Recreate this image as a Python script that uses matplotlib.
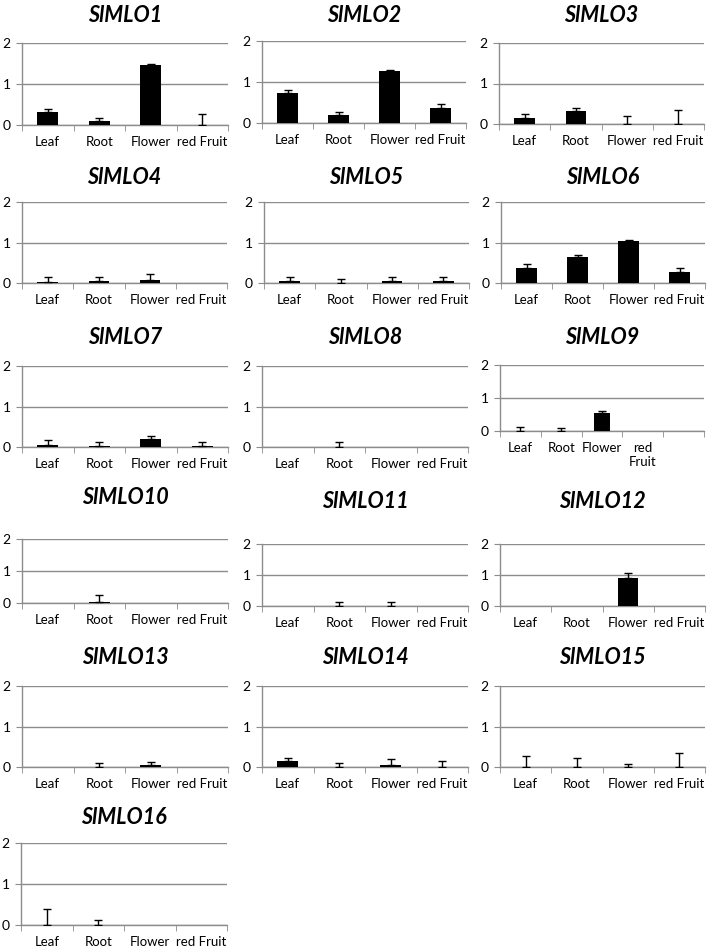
import matplotlib
matplotlib.use("Agg")
import matplotlib.pyplot as plt
import numpy as np

plt.rcParams["font.family"] = ["Lato", "DejaVu Sans"]

genes = ["SlMLO1", "SlMLO2", "SlMLO3", "SlMLO4", "SlMLO5", "SlMLO6",
         "SlMLO7", "SlMLO8", "SlMLO9", "SlMLO10", "SlMLO11", "SlMLO12",
         "SlMLO13", "SlMLO14", "SlMLO15", "SlMLO16"]
tissues = ["Leaf", "Root", "Flower", "red Fruit"]
tissues_9 = ["Leaf", "Root", "Flower", "red\nFruit", ""]

# relative expression per tissue (Leaf, Root, Flower, red Fruit)
expr = [
    [0.32, 0.10, 1.46, 0.00],
    [0.72, 0.19, 1.26, 0.36],
    [0.16, 0.33, 0.00, 0.00],
    [0.02, 0.06, 0.07, 0.00],
    [0.04, 0.01, 0.06, 0.04],
    [0.36, 0.64, 1.03, 0.26],
    [0.05, 0.02, 0.20, 0.03],
    [0.00, 0.00, 0.00, 0.00],
    [0.00, 0.00, 0.54, 0.00, 0.00],
    [0.00, 0.02, 0.00, 0.00],
    [0.00, 0.00, 0.01, 0.00],
    [0.00, 0.00, 0.91, 0.00],
    [0.00, 0.00, 0.06, 0.00],
    [0.14, 0.01, 0.06, 0.00],
    [0.00, 0.00, 0.00, 0.00],
    [0.00, 0.00, 0.00, 0.00],
]
# upper error (standard deviation)
err = [
    [0.08, 0.08, 0.02, 0.28],
    [0.09, 0.07, 0.03, 0.11],
    [0.09, 0.06, 0.20, 0.35],
    [0.12, 0.09, 0.16, 0.00],
    [0.12, 0.08, 0.08, 0.10],
    [0.12, 0.06, 0.02, 0.11],
    [0.12, 0.10, 0.06, 0.10],
    [0.00, 0.12, 0.00, 0.00],
    [0.13, 0.10, 0.07, 0.00, 0.00],
    [0.00, 0.23, 0.00, 0.00],
    [0.00, 0.14, 0.11, 0.00],
    [0.00, 0.00, 0.14, 0.00],
    [0.00, 0.11, 0.06, 0.00],
    [0.09, 0.09, 0.13, 0.15],
    [0.28, 0.22, 0.08, 0.34],
    [0.38, 0.12, 0.00, 0.00],
]

# axes boxes in pixels: left, top(y=2), right, bottom(y=0); title centre y
W, H = 709, 948
boxes = [
    (22, 43, 228, 125, 16), (262, 41, 466, 123, 16), (499, 43, 704, 124, 16),
    (22, 202, 227, 283, 177), (264, 202, 469, 283, 177), (501, 202, 705, 283, 177),
    (22, 366, 228, 447, 337), (262, 366, 468, 447, 337), (500, 365, 704, 431, 337),
    (22, 539, 228, 603, 497), (262, 544, 468, 606, 501), (500, 544, 705, 606, 501),
    (22, 686, 228, 767, 657), (262, 686, 468, 767, 657), (500, 686, 705, 767, 657),
    (21, 843, 227, 925, 817),
]

fig = plt.figure(figsize=(W / 100, H / 100), dpi=100)
grey = "#8c8c8c"

for i, g in enumerate(genes):
    l, t, r, b, ty = boxes[i]
    ax = fig.add_axes([l / W, 1 - b / H, (r - l) / W, (b - t) / H])
    labels = tissues_9 if len(expr[i]) == 5 else tissues
    x = np.arange(len(labels))
    ax.bar(x, expr[i], width=0.4, color="black", zorder=3)
    for xi, v, e in zip(x, expr[i], err[i]):
        if e > 0:
            ax.errorbar(xi, v, yerr=[[0], [e]], fmt="none", ecolor="black",
                        elinewidth=1, capsize=3, capthick=1, zorder=4)
    ax.set_xlim(-0.5, len(labels) - 0.5)
    ax.set_ylim(0, 2)
    ax.set_yticks([0, 1, 2])
    ax.set_yticklabels(["0", "1", "2"], fontsize=10)
    ax.set_xticks(x)
    ax.set_xticklabels(labels, fontsize=9.5)
    ax.set_xticks(np.arange(len(labels) + 1) - 0.5, minor=True)
    ax.tick_params(axis="x", which="major", length=0, pad=8)
    ax.tick_params(axis="x", which="minor", length=4, color=grey, direction="out")
    ax.tick_params(axis="y", length=4, color=grey, pad=4)
    ax.grid(axis="y", color=grey, linewidth=1, zorder=0)
    for s in ["top", "right"]:
        ax.spines[s].set_visible(False)
    for s in ["left", "bottom"]:
        ax.spines[s].set_color(grey)
        ax.spines[s].set_linewidth(1)
    fig.text((l + r) / 2 / W, 1 - ty / H, g, ha="center", va="center",
             fontsize=15.5, fontweight="bold", fontstyle="italic")

fig.savefig("out.png", dpi=100)
